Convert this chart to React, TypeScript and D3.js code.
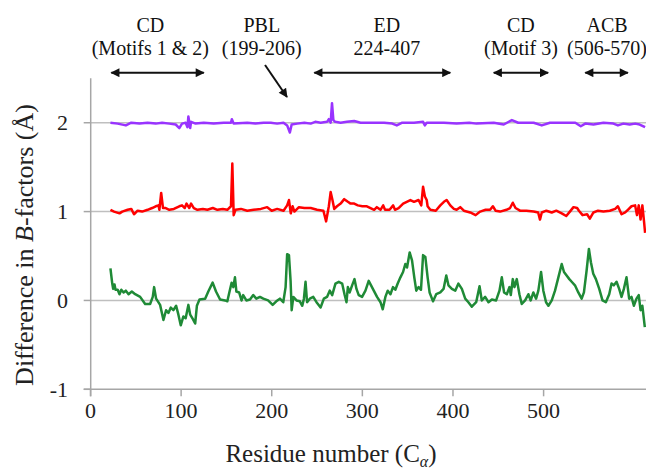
import React from "react";
import * as d3 from "d3";

// residue numbers and B-factor differences (offset series)
const purpleResidues = [22, 30, 39, 45, 54, 63, 72, 79, 87, 94, 98, 101, 105, 107, 108, 110, 111, 116, 125, 136, 147, 155, 156, 158, 173, 182, 191, 199, 206, 213, 217, 220, 222, 228, 236, 243, 248, 254, 261, 263, 265, 266.5, 268, 270, 276, 283, 291, 298, 309, 324, 333, 338, 344, 357, 367, 369, 371, 390, 404, 418, 426, 445, 456, 465, 472, 489, 498, 507, 522, 535, 541, 546, 555, 566, 577, 582, 588, 595, 601, 606, 612];
const purpleValues = [2.0, 1.99, 1.97, 2.0, 1.99, 2.0, 1.99, 2.0, 1.99, 1.98, 1.94, 1.99, 2.0, 1.95, 2.07, 1.94, 2.01, 1.99, 2.0, 1.99, 2.0, 2.0, 2.04, 1.99, 2.0, 1.99, 2.0, 2.0, 1.99, 2.0, 1.97, 1.89, 1.98, 1.99, 2.0, 1.99, 2.01, 2.0, 2.01, 2.04, 2.0, 2.22, 2.03, 2.01, 2.0, 2.01, 2.02, 2.0, 2.0, 2.0, 1.99, 1.97, 2.0, 2.0, 2.01, 1.97, 2.0, 2.0, 1.99, 2.0, 1.99, 2.0, 1.98, 2.03, 2.0, 2.0, 1.97, 2.0, 2.0, 2.0, 1.96, 1.99, 1.98, 2.0, 1.99, 1.97, 1.99, 1.98, 1.99, 1.98, 1.95];

const redResidues = [22, 26, 32, 35, 41, 45, 48, 52, 57, 63, 68, 72, 75, 76, 78, 80, 83, 87, 92, 98, 101, 104, 106, 109, 111, 114, 118, 124, 129, 135, 140, 146, 151, 155, 156.5, 158, 160, 166, 173, 180, 188, 195, 200, 206, 213, 217, 219, 221, 223, 225, 230, 236, 243, 250, 257, 260, 263, 265, 267, 269, 272, 276, 280, 284, 287, 291, 295, 300, 305, 309, 313, 316, 320, 323, 325, 330, 334, 336, 340, 345, 349, 353, 357, 362, 365, 367, 369, 371, 372, 375, 381, 386, 390, 393, 397, 401, 404, 408, 412, 419, 425, 430, 436, 441, 444, 447, 452, 459, 463, 466, 469, 474, 481, 489, 494, 496, 498, 503, 509, 514, 520, 525, 529, 533, 537, 539, 543, 548, 551, 555, 560, 566, 573, 579, 582, 586, 590, 593, 597, 601, 603, 605, 607, 609, 611, 612];
const redValues = [1.02, 1.0, 0.98, 1.0, 1.02, 1.03, 0.97, 1.01, 1.0, 1.02, 1.04, 1.06, 1.07, 1.02, 1.21, 1.04, 1.04, 1.02, 1.03, 1.06, 1.07, 1.04, 1.09, 1.04, 1.09, 1.04, 1.02, 1.03, 1.02, 1.04, 1.02, 1.03, 1.02, 1.06, 1.54, 0.96, 1.02, 1.03, 1.01, 1.02, 1.03, 1.05, 1.01, 1.03, 1.01, 1.07, 1.13, 0.98, 1.06, 1.0, 1.05, 1.04, 1.04, 1.02, 1.01, 0.89, 1.06, 1.22, 1.13, 1.03, 1.06, 1.09, 1.14, 1.11, 1.09, 1.09, 1.07, 1.06, 1.06, 1.04, 1.02, 1.05, 1.02, 1.07, 1.02, 1.02, 1.07, 1.02, 1.04, 1.09, 1.11, 1.13, 1.11, 1.13, 1.07, 1.28, 1.17, 1.13, 1.06, 1.02, 1.01, 1.07, 1.11, 1.13, 1.07, 1.03, 1.02, 1.05, 1.01, 0.99, 0.96, 1.0, 1.02, 1.02, 1.06, 1.01, 1.0, 1.02, 1.04, 1.1, 1.04, 1.01, 1.01, 1.0, 0.99, 0.91, 0.99, 1.01, 0.99, 1.01, 0.98, 0.95, 1.0, 1.05, 1.04, 1.01, 0.96, 0.97, 0.92, 0.99, 1.01, 1.0, 1.01, 1.03, 1.06, 0.97, 0.99, 1.02, 1.06, 1.07, 0.96, 1.07, 0.91, 1.07, 0.87, 0.76];

const greenResidues = [22, 24, 25, 26.5, 27.6, 30, 32, 34, 36.5, 39, 42, 45.6, 49.3, 54.8, 60.3, 65.8, 68.7, 70.2, 72.4, 76.8, 80.5, 83.4, 86, 88.6, 91.5, 94.5, 97, 99.6, 102.5, 105, 108, 110, 113, 115.5, 117.4, 120.3, 126.5, 130, 134.8, 138.5, 143, 148.5, 151, 153, 155.7, 157.6, 159.4, 161, 164, 166.7, 168.5, 172, 176, 179.6, 183, 187, 190.7, 196, 201, 205, 209, 212.7, 215.3, 217, 219, 220.8, 222, 223.8, 227.4, 231, 233.7, 235.5, 237.3, 239, 242, 245.8, 249.4, 253.9, 257.5, 261, 264, 266.7, 270.3, 274, 277.7, 280.3, 282.5, 284, 286, 288.7, 291.3, 293.5, 296, 299.7, 303.4, 307, 309.6, 312.6, 316.2, 320, 322.5, 325.4, 328, 331, 333.8, 336.4, 339, 342, 344.9, 347.4, 349.3, 352.2, 354.8, 357.3, 359.5, 362, 364.7, 367, 369.5, 372, 374.2, 378, 381.5, 386, 389.6, 392.6, 395, 398.8, 402.5, 406, 409.8, 413.5, 417, 420.8, 425.6, 429.3, 431.8, 435.5, 439.2, 442.9, 447.6, 451.3, 453.9, 456.4, 459.4, 462.3, 463.8, 466, 467.8, 470.4, 473.3, 475.9, 479.6, 483.2, 485.8, 488.7, 491.7, 494.2, 497.2, 499.7, 502.7, 505.3, 509, 512.6, 516.3, 520, 522.5, 525.4, 528.4, 531, 534.6, 538.3, 542, 544.5, 547.5, 550, 552.2, 554.8, 557.7, 561.4, 565, 568.7, 572.4, 575, 577.5, 580.5, 583.4, 586, 588.6, 591.5, 594.4, 597, 599.6, 602.5, 605, 607, 609, 611.7];
const greenValues = [0.36, 0.19, 0.13, 0.18, 0.12, 0.12, 0.07, 0.12, 0.09, 0.11, 0.07, 0.1, 0.07, 0.04, -0.04, -0.04, 0.04, 0.15, 0.02, -0.05, -0.22, -0.11, -0.14, -0.08, -0.11, -0.06, -0.16, -0.28, -0.18, -0.2, -0.05, -0.16, -0.21, -0.26, -0.06, 0.01, 0.02, 0.1, 0.2, 0.1, 0.01, 0.0, -0.01, 0.08, 0.2, 0.15, 0.26, 0.1, 0.09, 0.0, 0.06, 0.0, 0.01, 0.06, 0.02, 0.04, 0.02, 0.0, -0.05, -0.01, 0.02, -0.02, 0.15, 0.52, 0.51, 0.22, -0.11, 0.04, 0.0, -0.01, -0.06, 0.02, 0.21, -0.02, 0.02, 0.04, -0.02, -0.08, 0.02, 0.04, 0.11, 0.06, 0.19, 0.21, 0.19, 0.07, -0.02, 0.15, 0.09, 0.17, 0.24, 0.13, 0.06, 0.04, 0.11, 0.22, 0.17, 0.11, 0.04, -0.02, -0.1, 0.04, 0.11, 0.07, 0.15, 0.12, 0.19, 0.26, 0.32, 0.41, 0.37, 0.54, 0.45, 0.26, 0.11, 0.15, 0.12, 0.51, 0.49, 0.26, 0.09, -0.01, 0.07, 0.09, 0.13, 0.28, 0.17, 0.13, 0.11, 0.19, 0.13, 0.02, -0.02, -0.07, -0.02, 0.16, 0.0, 0.04, -0.02, 0.01, 0.0, 0.11, 0.26, 0.09, 0.07, 0.15, 0.06, 0.24, 0.15, 0.24, 0.07, -0.04, 0.0, 0.07, 0.0, 0.09, 0.02, 0.11, 0.32, 0.11, -0.02, -0.06, 0.0, 0.11, 0.26, 0.41, 0.32, 0.28, 0.24, 0.21, 0.17, 0.09, 0.02, 0.09, 0.34, 0.58, 0.43, 0.3, 0.24, 0.13, 0.0, -0.02, 0.07, 0.19, 0.17, 0.21, 0.13, 0.04, 0.13, 0.26, 0.02, 0.04, -0.06, 0.02, 0.06, -0.11, -0.06, -0.3];

const xTicks = [0, 100, 200, 300, 400, 500];
const yTicks = [-1, 0, 1, 2];
const gridValues = [0, 1, 2];

// domain annotations above the plot (residue positions on the x scale)
const regionNames = ["CD", "PBL", "ED", "CD", "ACB"];
const regionRanges = ["(Motifs 1 & 2)", "(199-206)", "224-407", "(Motif 3)", "(506-570)"];
const regionCenters = [66, 189, 327, 475, 570];
const arrowFrom = [23, 247, 445, 546];
const arrowTo = [125, 397, 505, 593];

const W = 646;
const H = 470;
const AXIS = "#a6a6a6";

function App() {
  const x = d3.scaleLinear().domain([0, 613]).range([90.5, 646]);
  const y = d3.scaleLinear().domain([-1, 2.5]).range([389.3, 78.3]);
  const axisX = 90.7;
  const line = d3.line().x(d => x(d[0])).y(d => y(d[1]));

  const series = [
    { r: greenResidues, v: greenValues, color: "#1f8a36" },
    { r: redResidues, v: redValues, color: "#ff0000" },
    { r: purpleResidues, v: purpleValues, color: "#9933ff" },
  ];

  return (
    <svg width={W} height={H} style={{ fontFamily: '"Liberation Serif"', position: "absolute", left: 0, top: 0, background: "#fff" }}>
      <defs>
        <marker id="head" viewBox="0 0 10 10" refX={9} refY={5} markerWidth={5} markerHeight={4.5}
          markerUnits="strokeWidth" orient="auto-start-reverse">
          <path d="M0,0 L10,5 L0,10 Z" fill="#111" />
        </marker>
      </defs>

      {gridValues.map(g => (
        <line key={"g" + g} x1={axisX} x2={W} y1={y(g)} y2={y(g)} stroke="#bfbfbf" strokeWidth={1.5} />
      ))}

      <line x1={axisX} x2={axisX} y1={y(2.5)} y2={y(-1) + 7} stroke={AXIS} strokeWidth={1.5} />
      <line x1={axisX - 7} x2={W} y1={y(-1)} y2={y(-1)} stroke={AXIS} strokeWidth={1.5} />
      {yTicks.map(t => (
        <line key={"yt" + t} x1={axisX - 7} x2={axisX} y1={y(t)} y2={y(t)} stroke={AXIS} strokeWidth={1.5} />
      ))}
      {xTicks.map(t => (
        <line key={"xt" + t} x1={x(t)} x2={x(t)} y1={y(-1)} y2={y(-1) + 7} stroke={AXIS} strokeWidth={1.5} />
      ))}

      {yTicks.map(t => (
        <text key={"yl" + t} x={68} y={y(t)} dy="0.35em" textAnchor="end" fill="#222" fontSize={22}>{String(t)}</text>
      ))}
      {xTicks.map(t => (
        <text key={"xl" + t} x={x(t)} y={418} textAnchor="middle" fill="#222" fontSize={22}>{String(t)}</text>
      ))}

      <text x={331} y={462} textAnchor="middle" fill="#222" fontSize={25}>
        <tspan>Residue number (C</tspan>
        <tspan fontStyle="italic" dy={5} fontSize={16}>α</tspan>
        <tspan dy={-5}>)</tspan>
      </text>
      <text transform="translate(33,245) rotate(-90)" textAnchor="middle" fill="#222" fontSize={26}>
        <tspan>Difference in </tspan>
        <tspan fontStyle="italic">B</tspan>
        <tspan>-factors (Å)</tspan>
      </text>

      {series.map((s, k) => (
        <path key={"s" + k} d={line(s.r.map((r, i) => [r, s.v[i]])) || ""}
          fill="none" stroke={s.color} strokeWidth={2.5} strokeLinejoin="round" />
      ))}

      {regionNames.map((n, i) => (
        <text key={"rn" + i} x={x(regionCenters[i])} y={32} textAnchor="middle" fill="#111" fontSize={20}>{n}</text>
      ))}
      {regionRanges.map((n, i) => (
        <text key={"rr" + i} x={x(regionCenters[i])} y={55} textAnchor="middle" fill="#111" fontSize={20}>{n}</text>
      ))}
      {arrowFrom.map((a, i) => (
        <line key={"ra" + i} x1={x(a)} x2={x(arrowTo[i])} y1={72.7} y2={72.7} stroke="#111" strokeWidth={2}
          markerStart="url(#head)" markerEnd="url(#head)" />
      ))}

      {/* PBL pointer */}
      <line x1={x(192.6)} y1={y(2.65)} x2={x(216.8)} y2={y(2.29)} stroke="#111" strokeWidth={2} markerEnd="url(#head)" />
    </svg>
  );
}

export default App;
